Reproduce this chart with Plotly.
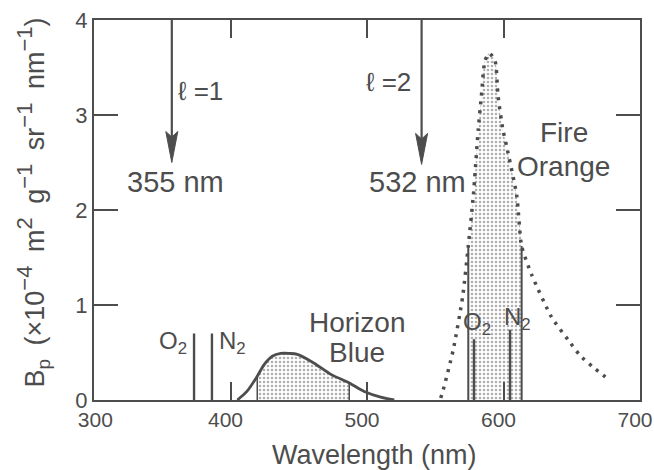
import plotly.graph_objects as go

# ---------------- data ----------------
blue_nm = [405, 412, 419.6, 424.5, 430.6, 436.8, 442.9, 449, 461, 473.5, 487, 498, 510, 520]
blue_bp = [0.0, 0.09, 0.25, 0.37, 0.46, 0.49, 0.49, 0.48, 0.39, 0.27, 0.18, 0.09, 0.03, 0.0]
blue_band = [419.6, 487]

orange_nm = [554, 555.9, 563.2, 570.1, 574.2, 577.9, 581.5, 583.8, 586.4, 589.6, 593.8, 596.0,
             599.5, 602.3, 609.7, 613.3, 620.6, 635.3, 647.5, 656, 665.3, 676.8]
orange_bp = [0.02, 0.11, 0.53, 1.09, 1.62, 2.15, 2.85, 3.2, 3.57, 3.65, 3.57, 3.2,
             2.85, 2.67, 2.15, 1.62, 1.32, 0.87, 0.63, 0.47, 0.35, 0.22]
orange_band = [574.2, 613.3]

raman_nm = [373.3, 386.4, 578.4, 604.8]
raman_bp = [0.70, 0.70, 0.64, 0.74]
raman_lbl = ["O<sub>2</sub>", "N<sub>2</sub>", "O<sub>2</sub>", "N<sub>2</sub>"]

laser_nm = [357, 540]
laser_tip = [2.5, 2.48]
laser_lbl = ["355 nm", "532 nm"]
order_lbl = ["ℓ =1", "ℓ =2"]

x_ticks = [300, 400, 500, 600, 700]
x_ticktext = ["\u2009\u2009\u2009300", "400", "500", "600", "700"]
y_ticks = [0, 1, 2, 3, 4]

# ---------------- style ----------------
INK = "#4d4d4d"
FONT = "Liberation Sans"
L, R, T, B = 94, 14, 20, 70
W, H = 654, 470
XR, YR = [300, 700], [0, 4]
px_x = (W - L - R) / (XR[1] - XR[0])   # pixels per nm
px_y = (H - T - B) / (YR[1] - YR[0])   # pixels per unit


def interp(x, xs, ys):
    for i in range(len(xs) - 1):
        if xs[i] <= x <= xs[i + 1]:
            t = (x - xs[i]) / (xs[i + 1] - xs[i])
            return ys[i] + t * (ys[i + 1] - ys[i])
    return 0.0


fig = go.Figure()

pattern = dict(shape=".", fgcolor="#606060", bgcolor="white", size=4, solidity=0.33)

# shaded band under Horizon Blue
bx = [x for x in blue_nm if blue_band[0] <= x <= blue_band[1]]
by = [blue_bp[blue_nm.index(x)] for x in bx]
fig.add_trace(go.Scatter(x=bx, y=by, mode="lines", line=dict(width=0, shape="spline"),
                         fill="tozeroy", fillcolor="rgba(0,0,0,0)", fillpattern=pattern,
                         hoverinfo="skip", showlegend=False))
# shaded band under Fire Orange
ox = [x for x in orange_nm if orange_band[0] <= x <= orange_band[1]]
oy = [orange_bp[orange_nm.index(x)] for x in ox]
fig.add_trace(go.Scatter(x=ox, y=oy, mode="lines", line=dict(width=0, shape="spline"),
                         fill="tozeroy", fillcolor="rgba(0,0,0,0)", fillpattern=pattern,
                         hoverinfo="skip", showlegend=False))

# band boundary lines
for xb in blue_band:
    fig.add_trace(go.Scatter(x=[xb, xb], y=[0, interp(xb, blue_nm, blue_bp)], mode="lines",
                             line=dict(color=INK, width=1.5), showlegend=False, hoverinfo="skip"))
for xb in orange_band:
    fig.add_trace(go.Scatter(x=[xb, xb], y=[0, interp(xb, orange_nm, orange_bp)], mode="lines",
                             line=dict(color=INK, width=2), showlegend=False, hoverinfo="skip"))

# Horizon Blue curve
fig.add_trace(go.Scatter(x=blue_nm, y=blue_bp, mode="lines",
                         line=dict(color=INK, width=2.8, shape="spline", smoothing=0.8),
                         showlegend=False))
# Fire Orange dotted curve
fig.add_trace(go.Scatter(x=orange_nm, y=orange_bp, mode="lines",
                         line=dict(color=INK, width=3.5, dash="3px,6px", shape="spline", smoothing=0.6),
                         showlegend=False))

# Raman lines
for xr, yr in zip(raman_nm, raman_bp):
    fig.add_trace(go.Scatter(x=[xr, xr], y=[0, yr], mode="lines",
                             line=dict(color=INK, width=2.4), showlegend=False, hoverinfo="skip"))

# laser arrows
head_len = 31 / px_y
head_hw = 6 / px_x
for xl, tip in zip(laser_nm, laser_tip):
    fig.add_shape(type="line", x0=xl, x1=xl, y0=YR[1], y1=tip + head_len * 0.5,
                  line=dict(color=INK, width=2.2))
    path = (f"M {xl},{tip} L {xl - head_hw},{tip + head_len} "
            f"L {xl},{tip + head_len * 0.82} L {xl + head_hw},{tip + head_len} Z")
    fig.add_shape(type="path", path=path, fillcolor=INK, line=dict(color=INK, width=1))


def txt(x, y, s, size):
    fig.add_annotation(x=x, y=y, xref="x", yref="y", text=s, showarrow=False,
                       font=dict(family=FONT, size=size, color=INK),
                       xanchor="center", yanchor="middle")


# labels
txt(360, 2.30, laser_lbl[0], 29)
txt(537, 2.30, laser_lbl[1], 29)
txt(378, 3.25, order_lbl[0], 26)
txt(516, 3.35, order_lbl[1], 26)
txt(493, 0.82, "Horizon", 28)
txt(493, 0.50, "Blue", 28)
txt(644, 2.82, "Fire", 28)
txt(644, 2.46, "Orange", 28)
raman_pos = [(357.9, 0.61), (401.8, 0.61), (580.9, 0.81), (609.9, 0.86)]
for (xp, yp), s in zip(raman_pos, raman_lbl):
    txt(xp, yp, s, 24)


def sup(s):
    return f"<sup><span style='font-size:22px'>{s}</span></sup>"


ES = "\u2002"  # en space, a little wider than a normal space
ytitle = (f"B<sub>p</sub>{ES}(×10{sup('−4')}{ES}m{sup('2')}{ES}g{sup('−1')}"
          f"{ES}sr{sup('−1')}{ES}nm{sup('−1')})")

# axis titles
fig.add_annotation(xref="paper", yref="paper", x=(33 - L) / (W - L - R), y=(400.5 - 203) / (H - T - B),
                   text=ytitle, textangle=-90, showarrow=False, xanchor="center", yanchor="middle",
                   font=dict(family=FONT, size=27, color=INK))
fig.add_annotation(xref="paper", yref="paper", x=(374 - L) / (W - L - R), y=(400.5 - 455) / (H - T - B),
                   text="Wavelength (nm)", showarrow=False, xanchor="center", yanchor="middle",
                   font=dict(family=FONT, size=27, color=INK))

axis_common = dict(showline=True, linecolor=INK, linewidth=2, mirror="ticks", ticks="inside",
                   tickcolor=INK, tickwidth=2, showgrid=False, zeroline=False,
                   ticklabeloverflow="allow", automargin=False)
fig.update_xaxes(range=XR, tickvals=x_ticks, ticktext=x_ticktext, ticklen=18, ticklabelshift=-5,
                 tickfont=dict(family=FONT, size=21, color=INK), **axis_common)
fig.update_yaxes(range=YR, tickvals=y_ticks, ticklen=24,
                 tickfont=dict(family=FONT, size=22, color=INK), **axis_common)

fig.update_layout(width=W, height=H, margin=dict(l=L, r=R, t=T, b=B, autoexpand=False),
                  plot_bgcolor="white", paper_bgcolor="white", showlegend=False)

fig.write_html("out.html")
